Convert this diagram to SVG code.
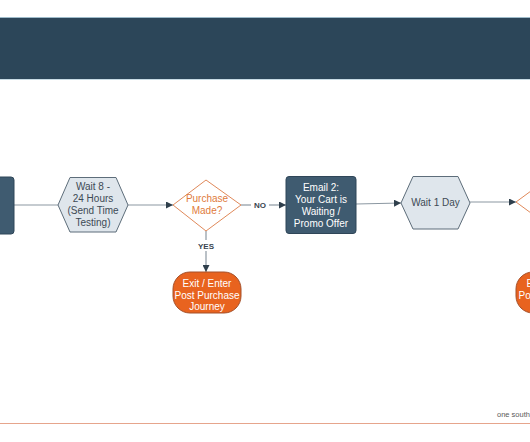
<svg xmlns="http://www.w3.org/2000/svg" width="530" height="442" viewBox="0 0 530 442">
<defs>
<marker id="arr" viewBox="0 0 10 10" refX="10" refY="5" markerWidth="7" markerHeight="7" markerUnits="userSpaceOnUse" orient="auto">
<path d="M0,0 L10,5 L0,10 z" fill="#2f3f4c"/>
</marker>
<style>
.t{font-family:"Liberation Sans",Arial,sans-serif;font-size:10px;text-anchor:middle}
.hex{fill:#dfe6ec;stroke:#5d6d7a;stroke-width:1}
.hext{fill:#3d4a55}
.dia{fill:#ffffff;stroke:#e0895a;stroke-width:1}
.diat{fill:#e07b3c}
.box{fill:#3f5b70;stroke:#2f4658;stroke-width:1}
.boxt{fill:#ffffff}
.term{fill:#e8631f;stroke:#a5502a;stroke-width:1}
.termt{fill:#ffffff}
.con{stroke:#8c98a2;stroke-width:1.2;fill:none}
.lbl{font-family:"Liberation Sans",Arial,sans-serif;font-size:8px;font-weight:bold;fill:#3a4650;text-anchor:middle}
</style>
</defs>
<rect width="530" height="442" fill="#ffffff"/>
<g id="header">
<rect x="0" y="17" width="530" height="62" fill="#2c4659"/>
<line x1="0" y1="17.5" x2="530" y2="17.5" stroke="#9fbccb" stroke-width="1"/>
<line x1="0" y1="79.5" x2="530" y2="79.5" stroke="#c8dbe5" stroke-width="1"/>
</g>
<g id="connectors">
<line class="con" x1="14" y1="205" x2="58" y2="205"/>
<line class="con" x1="128" y1="205" x2="173" y2="205" marker-end="url(#arr)"/>
<line class="con" x1="241" y1="205" x2="251" y2="205"/>
<line class="con" x1="269" y1="205" x2="286" y2="205" marker-end="url(#arr)"/>
<text class="lbl" x="260" y="208">NO</text>
<line class="con" x1="356" y1="204" x2="401" y2="203" marker-end="url(#arr)"/>
<line class="con" x1="470" y1="202" x2="516" y2="202" marker-end="url(#arr)"/>
<line class="con" x1="206" y1="231" x2="206" y2="240"/>
<line class="con" x1="206" y1="251" x2="206" y2="272" marker-end="url(#arr)"/>
<text class="lbl" x="206" y="249">YES</text>
</g>
<g id="email1">
<rect class="box" x="-20" y="177" width="34" height="57" rx="3"/>
</g>
<g id="wait1">
<polygon class="hex" points="58,205 70,177.5 116,177.5 128,205 116,232 70,232"/>
<text class="t hext" x="93" y="190">Wait 8 -</text>
<text class="t hext" x="93" y="202">24 Hours</text>
<text class="t hext" x="93" y="214">(Send Time</text>
<text class="t hext" x="93" y="226">Testing)</text>
</g>
<g id="decision1">
<polygon class="dia" points="173,205 206,180 241,205 206,231"/>
<text class="t diat" x="207" y="202">Purchase</text>
<text class="t diat" x="207" y="214">Made?</text>
</g>
<g id="email2">
<rect class="box" x="286" y="176.5" width="70" height="57" rx="3"/>
<text class="t boxt" x="321" y="191">Email 2:</text>
<text class="t boxt" x="321" y="203">Your Cart is</text>
<text class="t boxt" x="321" y="215">Waiting /</text>
<text class="t boxt" x="321" y="227">Promo Offer</text>
</g>
<g id="wait2">
<polygon class="hex" points="401,203 413,176.5 458,176.5 470,203 458,229 413,229"/>
<text class="t hext" x="435.5" y="206">Wait 1 Day</text>
</g>
<g id="decision2">
<polygon class="dia" points="516,202 550,177 584,202 550,227"/>
</g>
<g id="exit1">
<rect class="term" x="173" y="272" width="68" height="41" rx="17" ry="17"/>
<text class="t termt" x="207" y="287">Exit / Enter</text>
<text class="t termt" x="207" y="299">Post Purchase</text>
<text class="t termt" x="207" y="310">Journey</text>
</g>
<g id="exit2">
<rect class="term" x="516" y="272" width="68" height="41" rx="17" ry="17"/>
<text class="t termt" x="551" y="287">Exit / Enter</text>
<text class="t termt" x="551" y="299">Post Purchase</text>
</g>
<g id="footer">
<line x1="0" y1="423.5" x2="530" y2="423.5" stroke="#e6a58c" stroke-width="1.2"/>
<text x="497" y="417" font-family="'Liberation Sans',Arial,sans-serif" font-size="7.5" fill="#5a5a5a">one south</text>
</g>
</svg>
